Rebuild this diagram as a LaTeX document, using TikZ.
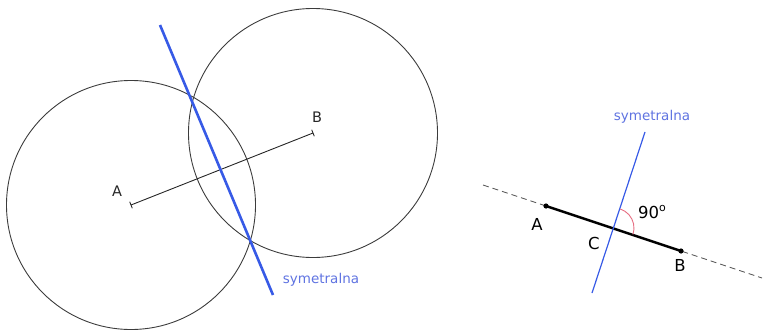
\documentclass[tikz,border=0pt]{standalone}
\usepackage{fontspec}
\setmainfont{DejaVu Sans}
\usetikzlibrary{calc}
\definecolor{symblue}{RGB}{55,90,230}
\definecolor{symtext}{RGB}{95,115,225}
\definecolor{circgray}{RGB}{60,60,60}
\definecolor{arcpink}{RGB}{230,110,130}
\tikzset{
  circ/.style={draw=circgray, line width=0.9pt},
  seg/.style={draw=black!85, line width=0.9pt},
  tickmark/.style={draw=black!85, line width=0.9pt},
  bluethick/.style={draw=symblue, line width=2.6pt},
  bluethin/.style={draw=symblue, line width=1.2pt},
  ext/.style={draw=black!65, line width=0.9pt, dash pattern=on 6pt off 4pt},
  thickseg/.style={draw=black, line width=2.4pt},
  anglearc/.style={draw=arcpink, line width=0.9pt},
  lbl/.style={font=\fontsize{14.5}{16}\selectfont, text=black!85, inner sep=0pt},
  biglbl/.style={font=\fontsize{16.5}{18}\selectfont, text=black, inner sep=0pt},
  symlbl/.style={font=\fontsize{13.5}{15}\selectfont, text=symtext, inner sep=0pt},
  dot/.style={fill=black}
}
\begin{document}
\begin{tikzpicture}[x=1pt,y=-1pt]
\useasboundingbox (0,0) rectangle (765,332);
% left figure
\coordinate (A) at (131,205);
\coordinate (B) at (313,133);
\draw[circ] (A) circle[radius=124.5pt];
\draw[circ] (B) circle[radius=124.5pt];
\draw[seg] (A) -- (B);
\draw[tickmark] ($(A)!3.5pt!90:(B)$) -- ($(A)!-3.5pt!90:(B)$);
\draw[tickmark] ($(B)!3.5pt!90:(A)$) -- ($(B)!-3.5pt!90:(A)$);
\coordinate (S1) at (160,25);
\coordinate (S2) at (273,295);
\draw[bluethick] (S1) -- (S2);
\node[lbl] (la) at (117,191) {A};
\node[lbl] (lb) at (317,117) {B};
\node[symlbl] (ls) at (321,280) {symetralna};
% right figure
\coordinate (D1) at (483,185);
\coordinate (D2) at (762,278);
\coordinate (A2) at (546,206);
\coordinate (B2) at (681,251);
\coordinate (C2) at (614,228);
\coordinate (P1) at (645,132);
\coordinate (P2) at (592,293);
\draw[ext] (D1) -- (D2);
\draw[thickseg] (A2) -- (B2);
\fill[dot] (A2) circle[radius=2.6pt];
\fill[dot] (B2) circle[radius=2.6pt];
\draw[bluethin] (P1) -- (P2);
\draw[anglearc] ([shift={(-72:20)}]C2) arc[start angle=-72, end angle=19, radius=20];
\node[biglbl] (ra) at (537,224) {A};
\node[biglbl] (rb) at (680,265) {B};
\node[biglbl] (rc) at (594,243) {C};
\node[biglbl, anchor=west] (r90) at (638,212) {90\raisebox{0.45em}{\fontsize{11}{12}\selectfont o}};
\node[symlbl] (rs) at (652,117) {symetralna};
\end{tikzpicture}
\end{document}
